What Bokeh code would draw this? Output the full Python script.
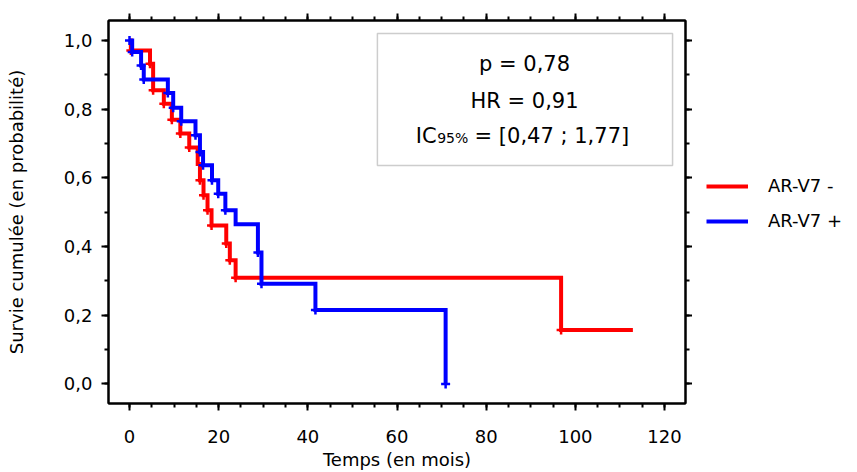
from bokeh.plotting import figure
from bokeh.layouts import row
from bokeh.models import (Range1d, LinearAxis, SingleIntervalTicker, CustomJSTickFormatter,
                          Legend, LegendItem, Label, BoxAnnotation)
from bokeh.embed import file_html
from bokeh.resources import INLINE

# ---- data ----
red_t = [0, 0.3, 4.6, 5.3, 7.7, 9.5, 11.4, 13.4, 15.3, 15.8, 16.6, 17.5, 18.4, 21.7, 22.5, 23.8, 96.8, 112.9]
red_s = [1.0, 0.971, 0.932, 0.855, 0.816, 0.769, 0.729, 0.688, 0.640, 0.593, 0.549, 0.506, 0.461, 0.409, 0.360, 0.309, 0.157, 0.157]
red_cens_t = [0.3, 4.6, 5.3, 7.7, 9.5, 11.4, 13.4, 15.8, 16.6, 17.5, 18.4, 21.7, 22.5, 23.8, 96.8]
red_cens_s = [0.971, 0.932, 0.855, 0.816, 0.769, 0.729, 0.688, 0.593, 0.549, 0.506, 0.461, 0.409, 0.360, 0.309, 0.157]

blue_t = [0, 0.6, 2.6, 3.2, 8.6, 9.8, 11.6, 14.8, 15.8, 16.5, 18.5, 19.9, 21.5, 23.8, 28.8, 29.6, 41.7, 70.9]
blue_s = [1.0, 0.966, 0.927, 0.886, 0.847, 0.804, 0.765, 0.724, 0.675, 0.637, 0.593, 0.554, 0.506, 0.465, 0.383, 0.292, 0.215, 0.0]
blue_cens_t = [0, 0.6, 2.6, 3.2, 8.6, 9.8, 11.6, 14.8, 15.8, 16.5, 18.5, 19.9, 21.5, 28.8, 29.6, 41.7, 70.9]
blue_cens_s = [1.0, 0.966, 0.927, 0.886, 0.847, 0.804, 0.765, 0.724, 0.675, 0.637, 0.593, 0.554, 0.506, 0.383, 0.292, 0.215, 0.0]

series_labels = ["AR-V7 -", "AR-V7 +"]
series_colors = ["#FF0000", "#0000FF"]
stats_lines = ["p = 0,78", "HR = 0,91"]
ic_parts = ["IC", "95%", "= [0,47 ; 1,77]"]
x_label = "Temps (en mois)"
y_label = "Survie cumulée (en probabilité)"

FONT = "DejaVu Sans"

p = figure(width=692, height=472, output_backend="svg", toolbar_location=None,
           x_range=Range1d(-4.71, 124.7), y_range=Range1d(-0.0568, 1.058),
           min_border_left=108, min_border_right=7, min_border_top=20, min_border_bottom=69)
p.xgrid.visible = False
p.ygrid.visible = False
p.outline_line_color = "black"
p.outline_line_width = 2
p.background_fill_color = "white"
p.border_fill_color = "white"

yfmt = CustomJSTickFormatter(code="return tick.toFixed(1).replace('.', ',');")
blank = CustomJSTickFormatter(code="return '';")

def style_axis(ax, labels=True):
    ax.axis_line_width = 2
    ax.axis_line_color = "black"
    ax.major_tick_in = 0
    ax.minor_tick_in = 0
    ax.major_tick_out = 7
    ax.minor_tick_out = 4
    ax.major_tick_line_width = 2
    ax.minor_tick_line_width = 2
    ax.major_tick_line_color = "black"
    ax.minor_tick_line_color = "black"
    if labels:
        ax.major_label_text_font = FONT
        ax.major_label_text_font_size = "18px"
        ax.major_label_text_color = "black"
        ax.axis_label_text_font = FONT
        ax.axis_label_text_font_size = "18px"
        ax.axis_label_text_font_style = "normal"
        ax.axis_label_text_color = "black"
    else:
        ax.formatter = blank
        ax.major_label_text_font_size = "1px"
        ax.major_label_text_color = None
        ax.major_label_standoff = 0

xa = p.xaxis[0]
xa.ticker = SingleIntervalTicker(interval=20, num_minor_ticks=4)
style_axis(xa)
xa.axis_label = x_label
xa.major_label_standoff = 19
xa.axis_label_standoff = 3

ya = p.yaxis[0]
ya.ticker = SingleIntervalTicker(interval=0.2, num_minor_ticks=2)
ya.formatter = yfmt
style_axis(ya)
ya.axis_label = y_label
ya.major_label_standoff = 9
ya.axis_label_standoff = 34

top = LinearAxis(ticker=SingleIntervalTicker(interval=20, num_minor_ticks=4))
style_axis(top, labels=False)
p.add_layout(top, "above")
right = LinearAxis(ticker=SingleIntervalTicker(interval=0.2, num_minor_ticks=2))
style_axis(right, labels=False)
p.add_layout(right, "right")

# ---- curves ----
p.step(red_t, red_s, mode="after", line_color=series_colors[0], line_width=4, line_join="miter")
p.scatter(red_cens_t, red_cens_s, marker="cross", size=9, line_width=2.5, line_color=series_colors[0])
p.step(blue_t, blue_s, mode="after", line_color=series_colors[1], line_width=4, line_join="miter")
p.scatter(blue_cens_t, blue_cens_s, marker="cross", size=9, line_width=2.5, line_color=series_colors[1])

# ---- statistics box ----
p.add_layout(BoxAnnotation(left=55.6, right=121.8, top=1.020, bottom=0.636,
                           fill_alpha=0, line_color="#595959", line_width=1.5))
p.add_layout(Label(x=88.6, y=0.931, text=stats_lines[0], text_align="center", text_baseline="alphabetic",
                   text_font=FONT, text_font_size="21px", text_color="black"))
p.add_layout(Label(x=88.6, y=0.823, text=stats_lines[1], text_align="center", text_baseline="alphabetic",
                   text_font=FONT, text_font_size="21px", text_color="black"))
p.add_layout(Label(x=64.2, y=0.721, text=ic_parts[0], text_align="left", text_baseline="alphabetic",
                   text_font=FONT, text_font_size="21px", text_color="black"))
p.add_layout(Label(x=69.0, y=0.715, text=ic_parts[1], text_align="left", text_baseline="alphabetic",
                   text_font=FONT, text_font_size="14px", text_color="black"))
p.add_layout(Label(x=77.4, y=0.721, text=ic_parts[2], text_align="left", text_baseline="alphabetic",
                   text_font=FONT, text_font_size="21px", text_color="black"))

# ---- legend panel (separate figure to the right; its curves lie outside its view) ----
pl = figure(width=165, height=472, output_backend="svg", toolbar_location=None,
            x_range=Range1d(1000, 1001), y_range=Range1d(1000, 1001),
            min_border_left=0, min_border_top=20, min_border_right=0, min_border_bottom=69)
pl.xaxis.visible = False
pl.yaxis.visible = False
pl.xgrid.visible = False
pl.ygrid.visible = False
pl.outline_line_color = None
pl.background_fill_color = "white"
pl.border_fill_color = "white"
leg_r = [pl.line(red_t, red_s, line_color=series_colors[0], line_width=4),
         pl.line(blue_t, blue_s, line_color=series_colors[1], line_width=4)]
legend = Legend(items=[LegendItem(label=lab, renderers=[r]) for lab, r in zip(series_labels, leg_r)],
                location=(14, 172), glyph_width=42, glyph_height=20, label_standoff=20,
                padding=4, margin=0, spacing=14, border_line_color=None,
                background_fill_alpha=0, label_text_font=FONT, label_text_font_size="18px",
                label_text_color="black")
pl.add_layout(legend)

open("out.html", "w").write(file_html(row(p, pl), INLINE))
